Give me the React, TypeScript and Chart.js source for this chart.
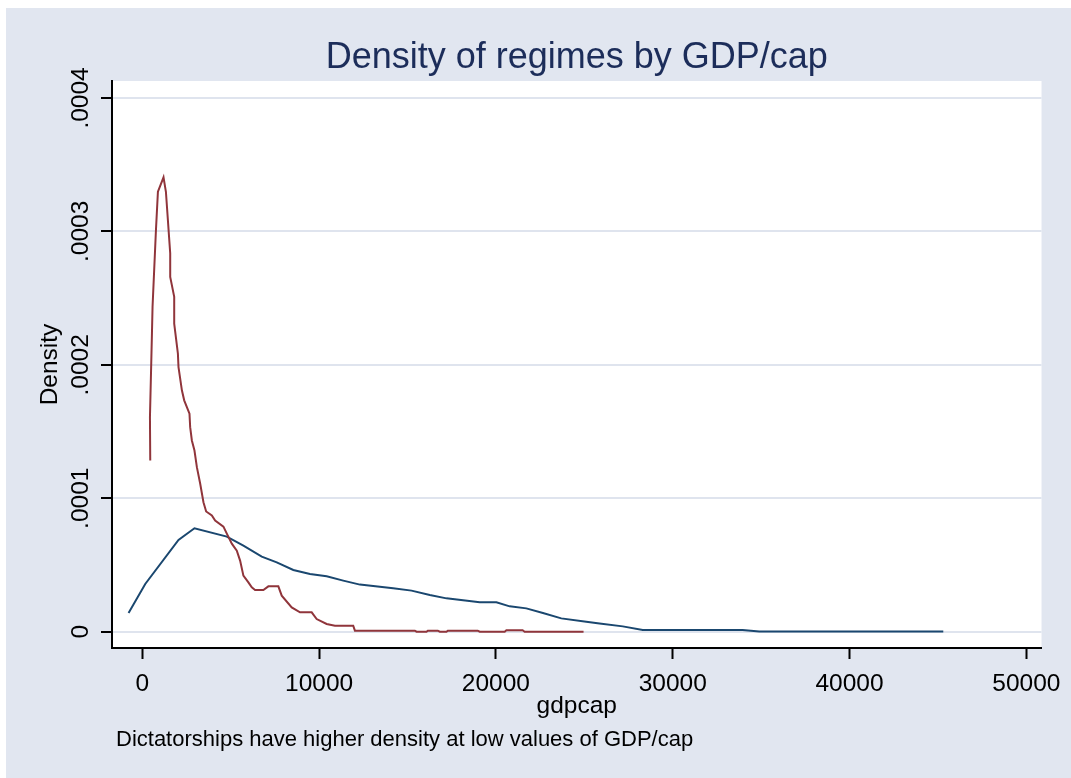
import React, { useEffect, useRef } from 'react';
import { Chart, registerables } from 'chart.js';

Chart.register(...registerables);

// Democracies (blue) kernel density
const demGdp = [-774, 169, 2050, 2953, 4783, 5720, 6759, 7606, 8543, 9486, 10429, 11367, 12309, 14190, 15229, 16262, 17205, 19085, 20028, 20779, 21722, 22660, 23698, 25110, 25861, 27177, 28306, 33952, 34895, 45302];
const demDensity = [1.40e-5, 3.58e-5, 6.88e-5, 7.75e-5, 7.13e-5, 6.45e-5, 5.63e-5, 5.20e-5, 4.63e-5, 4.33e-5, 4.15e-5, 3.83e-5, 3.53e-5, 3.25e-5, 3.08e-5, 2.75e-5, 2.50e-5, 2.20e-5, 2.20e-5, 1.90e-5, 1.75e-5, 1.40e-5, 1.00e-5, 7.5e-6, 6.2e-6, 4.0e-6, 1.3e-6, 1.3e-6, 1.0e-7, 1.0e-7];

// Dictatorships (red) kernel density
const dicGdp = [452, 435, 548, 582, 774, 886, 1203, 1338, 1581, 1581, 1807, 1807, 2016, 2050, 2242, 2372, 2671, 2710, 2806, 2953, 3089, 3275, 3461, 3614, 3936, 4122, 4591, 4783, 5065, 5347, 5534, 5720, 6002, 6194, 6381, 6849, 7132, 7696, 7888, 8453, 8921, 9582, 9864, 10429, 10898, 11931, 12027, 15415, 15511, 16076, 16149, 16714, 16827, 17205, 17278, 18972, 19085, 20497, 20593, 21513, 21626, 24958];
const dicDensity = [1.283e-4, 1.608e-4, 2.234e-4, 2.434e-4, 3.009e-4, 3.297e-4, 3.405e-4, 3.297e-4, 2.835e-4, 2.659e-4, 2.509e-4, 2.309e-4, 2.084e-4, 1.983e-4, 1.809e-4, 1.734e-4, 1.634e-4, 1.533e-4, 1.433e-4, 1.358e-4, 1.233e-4, 1.111e-4, 9.70e-5, 9.01e-5, 8.71e-5, 8.33e-5, 7.88e-5, 7.35e-5, 6.60e-5, 6.08e-5, 5.33e-5, 4.20e-5, 3.70e-5, 3.32e-5, 3.13e-5, 3.13e-5, 3.40e-5, 3.40e-5, 2.70e-5, 1.82e-5, 1.45e-5, 1.45e-5, 9.5e-6, 5.8e-6, 4.5e-6, 4.5e-6, 8e-7, 8e-7, 0, 0, 8e-7, 8e-7, 0, 0, 8e-7, 8e-7, 0, 0, 1.1e-6, 1.1e-6, 0, 0];

const xTicks = [0, 10000, 20000, 30000, 40000, 50000];
const yTicks = [0, 0.0001, 0.0002, 0.0003, 0.0004];

const titleText = 'Density of regimes by GDP/cap';
const noteText = 'Dictatorships have higher density at low values of GDP/cap';
const xTitle = 'gdpcap';
const yTitle = 'Density';

const FONT = "'Liberation Sans', Arial, Helvetica, sans-serif";
const BG = '#e1e6f0';
const GRID = '#dfe4ee';
const RED = '#90353b';
const BLUE = '#1a476f';

export default function App() {
  const ref = useRef<HTMLCanvasElement>(null);

  useEffect(() => {
    const canvas = ref.current;
    if (!canvas) return;
    Chart.defaults.font.family = FONT;
    Chart.defaults.color = '#000';

    const plotBg = {
      id: 'plotBg',
      beforeDraw(chart: any) {
        const { ctx, chartArea: a } = chart;
        ctx.save();
        ctx.fillStyle = '#ffffff';
        ctx.fillRect(a.left, a.top, a.right - a.left, a.bottom - a.top);
        ctx.restore();
      },
    };
    const note = {
      id: 'note',
      afterDraw(chart: any) {
        const { ctx, chartArea: a } = chart;
        ctx.save();
        ctx.font = `22px ${FONT}`;
        ctx.fillStyle = '#000';
        ctx.textAlign = 'left';
        ctx.textBaseline = 'alphabetic';
        ctx.fillText(noteText, a.left + 4, 737.7);
        ctx.restore();
      },
    };

    const tickFont = { family: FONT, size: 24.5, lineHeight: 1.2 };

    const chart = new Chart(canvas, {
      type: 'line',
      data: {
        datasets: [
          {
            label: 'Dictatorships',
            data: dicGdp.map((x, i) => ({ x, y: dicDensity[i] })),
            borderColor: RED,
            borderWidth: 2,
            pointRadius: 0,
            tension: 0,
            fill: false,
          },
          {
            label: 'Democracies',
            data: demGdp.map((x, i) => ({ x, y: demDensity[i] })),
            borderColor: BLUE,
            borderWidth: 2,
            pointRadius: 0,
            tension: 0,
            fill: false,
          },
        ],
      },
      options: {
        animation: false,
        responsive: false,
        maintainAspectRatio: false,
        layout: { padding: { left: 0, right: 28, top: 0, bottom: 0 } },
        plugins: {
          legend: { display: false },
          tooltip: { enabled: false },
          title: {
            display: true,
            text: titleText,
            fullSize: false,
            color: '#1c2d5a',
            font: { family: FONT, size: 36, weight: 'normal', lineHeight: 1.2 },
            padding: { top: 28.4, bottom: 1.4 },
          },
        },
        scales: {
          x: {
            type: 'linear',
            min: -1711,
            max: 50858,
            afterBuildTicks: (s: any) => {
              s.ticks = xTicks.map((v) => ({ value: v }));
            },
            afterFit: (s: any) => {
              s.height = 130;
            },
            ticks: {
              autoSkip: false,
              minRotation: 0,
              maxRotation: 0,
              padding: 10.1,
              color: '#000',
              font: tickFont,
              callback: (v: any) => String(v),
            },
            grid: {
              drawOnChartArea: false,
              drawTicks: true,
              tickLength: 11,
              tickColor: '#000',
              tickWidth: 2,
            },
            border: { display: true, color: '#000', width: 2 },
            title: {
              display: true,
              text: xTitle,
              color: '#000',
              font: tickFont,
              padding: { top: 0, bottom: 56.8 },
            },
          },
          y: {
            type: 'linear',
            min: -0.0000122,
            max: 0.0004127,
            afterBuildTicks: (s: any) => {
              s.ticks = yTicks.map((v) => ({ value: v }));
            },
            afterFit: (s: any) => {
              s.width = 106;
            },
            ticks: {
              autoSkip: false,
              minRotation: 90,
              maxRotation: 90,
              crossAlign: 'center',
              padding: -10.45,
              color: '#000',
              font: tickFont,
              callback: (v: any) => (Number(v) === 0 ? '0' : Number(v).toFixed(4).replace(/^0/, '')),
            },
            grid: {
              color: GRID,
              lineWidth: 2,
              drawTicks: true,
              tickLength: 11,
              tickColor: '#000',
              tickWidth: 2,
            },
            border: { display: true, color: '#000', width: 2 },
            title: {
              display: true,
              text: yTitle,
              color: '#000',
              font: tickFont,
              padding: { top: 29.1, bottom: 0 },
            },
          },
        },
      } as any,
      plugins: [plotBg, note],
    });

    return () => chart.destroy();
  }, []);

  return (
    <div style={{ position: 'fixed', left: 6, top: 8, width: 1065, height: 770, background: BG }}>
      <canvas ref={ref} width={1065} height={770} style={{ display: 'block', width: 1065, height: 770 }} />
    </div>
  );
}
